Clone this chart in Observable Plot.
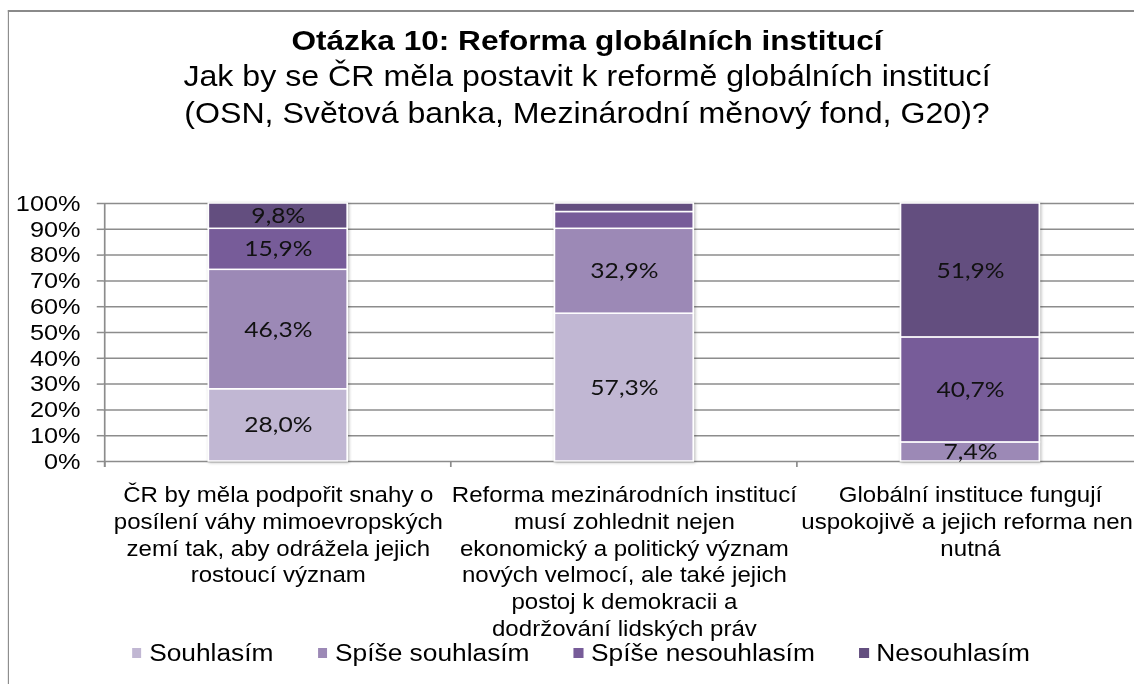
<!DOCTYPE html>
<html><head><meta charset="utf-8">
<script src="https://cdn.jsdelivr.net/npm/d3@7"></script>
<script src="https://cdn.jsdelivr.net/npm/@observablehq/plot@0.6"></script>
<style>
html,body{margin:0;padding:0;background:#fff;overflow:hidden;width:1134px;height:684px;}
#stage{position:relative;width:1012.5px;height:684px;transform:scaleX(1.12);transform-origin:0 0;font-family:"Liberation Sans",Arial,sans-serif;color:#000;}
#frame{position:absolute;left:7.1px;top:10px;width:1100px;height:700px;border-left:1.8px solid #8a8a8a;border-top:2px solid #8a8a8a;}
#title{position:absolute;left:0;width:1048.2px;top:24px;text-align:center;font-weight:bold;font-size:28.2px;line-height:32px;white-space:nowrap;}
#subtitle{position:absolute;left:0;width:1048.2px;top:58px;text-align:center;font-size:28.7px;line-height:36.5px;white-space:nowrap;}
#chart{position:absolute;left:0;top:180px;}
#legend{position:absolute;left:117.6px;top:638.5px;display:flex;gap:39.3px;font-size:23.5px;line-height:28px;white-space:nowrap;}
.item{display:flex;align-items:center;}
.sw{width:8.9px;height:10px;margin-right:6.7px;}
g[aria-label="bar"]{filter:drop-shadow(1.5px 1.5px 1.5px rgba(0,0,0,0.28));}
</style>
</head>
<body>
<div id="stage">
  <div id="frame"></div>
  <div id="title">Otázka 10: Reforma globálních institucí</div>
  <div id="subtitle">Jak by se ČR měla postavit k reformě globálních institucí<br>(OSN, Světová banka, Mezinárodní měnový fond, G20)?</div>
  <div id="chart"></div>
  <div id="legend"></div>
</div>
<script>
const questions = [
  "ČR by měla podpořit snahy o\nposílení váhy mimoevropských\nzemí tak, aby odrážela jejich\nrostoucí význam",
  "Reforma mezinárodních institucí\nmusí zohlednit nejen\nekonomický a politický význam\nnových velmocí, ale také jejich\npostoj k demokracii a\ndodržování lidských práv",
  "Globální instituce fungují\nuspokojivě a jejich reforma není\nnutná"
];
const responses = ["Souhlasím", "Spíše souhlasím", "Spíše nesouhlasím", "Nesouhlasím"];
const souhlasim = [28.0, 57.3, 0];
const spiseSouhlasim = [46.3, 32.9, 7.4];
const spiseNesouhlasim = [15.9, 6.5, 40.7];
const nesouhlasim = [9.8, 3.3, 51.9];
const labelShown = [
  [true, true, false],
  [true, true, true],
  [true, false, true],
  [true, false, true]
];
const colors = ["#C1B7D3", "#9C89B6", "#775C99", "#634E7F"];
const yTicks = [0, 10, 20, 30, 40, 50, 60, 70, 80, 90, 100];

const series = [souhlasim, spiseSouhlasim, spiseNesouhlasim, nesouhlasim];
const rows = [];
responses.forEach((r, ri) => {
  questions.forEach((q, qi) => {
    rows.push({question: q, response: r, value: series[ri][qi], show: labelShown[ri][qi]});
  });
});
const fmt = v => d3.format(".1f")(v).replace(".", ",") + "%";
const gridColor = "#8c8c8c";

function bandTicks() {
  return Plot.ruleX(questions, {
    x: d => d,
    render: (index, scales) => {
      const sx = scales.x;
      const desc = scales.scales ? scales.scales.x : {};
      const bw = typeof sx.bandwidth === "function" ? sx.bandwidth() : desc.bandwidth;
      const step = typeof sx.step === "function" ? sx.step() : desc.step;
      const y0 = scales.y(0), y1 = scales.y(100);
      const edges = questions.map(q => sx(q) - (step - bw) / 2);
      edges.push(edges[edges.length - 1] + step);
      const g = d3.create("svg:g").attr("stroke", gridColor).attr("stroke-width", 1.5);
      g.append("line").attr("x1", edges[0]).attr("x2", edges[0]).attr("y1", y1).attr("y2", y0 + 6);
      edges.forEach(e => g.append("line").attr("x1", e).attr("x2", e).attr("y1", y0).attr("y2", y0 + 6));
      return g.node();
    }
  });
}

const chart = Plot.plot({
  width: 1012.5,
  height: 460,
  marginLeft: 92,
  marginRight: 0,
  marginTop: 23,
  marginBottom: 179,
  style: {fontFamily: "'Liberation Sans', Arial, sans-serif", color: "#000", background: "transparent", overflow: "visible"},
  x: {domain: questions, range: [92, 1021.4], paddingInner: 0.6, paddingOuter: 0.3, label: null},
  y: {domain: [0, 100], label: null},
  color: {domain: responses, range: colors},
  marks: [
    Plot.ruleY(yTicks, {y: d => d, stroke: gridColor, strokeWidth: 1.5}),
    Plot.barY(rows, Plot.stackY({x: "question", y: "value", z: "response", fill: "response", stroke: "white", strokeWidth: 1.5})),
    Plot.text(rows, Plot.stackY({x: "question", y: "value", z: "response", text: d => d.show ? fmt(d.value) : "", fontFamily: "Lato", fontSize: 22, fill: "#111"})),
    Plot.axisY({ticks: yTicks, tickFormat: d => d + "%", tickSize: 5.6, tickPadding: 15, fontSize: 22.6, stroke: gridColor, strokeWidth: 1.5, fill: "#000", label: null}),
    Plot.axisX({tickSize: 0, tickPadding: 21.9, fontSize: 21.5, lineHeight: 1.24, fill: "#000", label: null}),
    bandTicks()
  ]
});
document.getElementById("chart").appendChild(chart);

const legend = document.getElementById("legend");
responses.forEach((r, i) => {
  const item = document.createElement("div");
  item.className = "item";
  const sw = document.createElement("span");
  sw.className = "sw";
  sw.style.background = colors[i];
  const t = document.createElement("span");
  t.textContent = r;
  item.appendChild(sw);
  item.appendChild(t);
  legend.appendChild(item);
});
</script>
</body></html>
